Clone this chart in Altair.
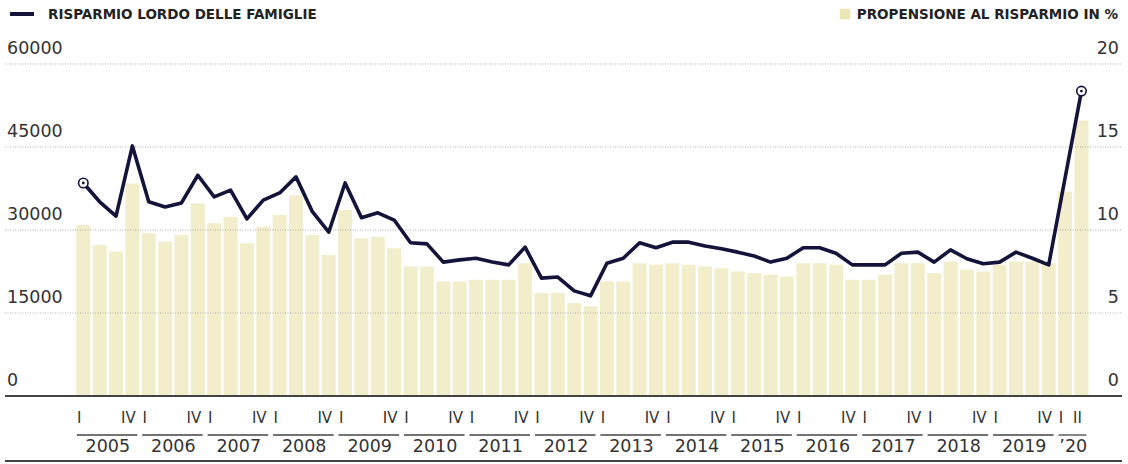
import altair as alt
import pandas as pd

# ---------------- data ----------------
years = list(range(2005, 2021))
year_labels = [str(y) for y in range(2005, 2020)] + ["’20"]

# Risparmio lordo delle famiglie (milioni di euro), 2005-I .. 2020-II
risparmio = [38500, 35100, 32500, 45200, 35100, 34150, 34900, 39900,
             36000, 37200, 32000, 35400, 36700, 39600, 33300, 29600,
             38500, 32200, 33100, 31800, 27700, 27500, 24200, 24600,
             24900, 24200, 23700, 26900, 21300, 21500, 19000, 18100,
             24000, 24900, 27700, 26800, 27800, 27800, 27100, 26600,
             26000, 25300, 24200, 24900, 26800, 26800, 25800, 23700,
             23700, 23700, 25800, 26000, 24200, 26400, 24800, 23900,
             24200, 26000, 24900, 23700, 39400, 55100]

# Propensione al risparmio in %
propensione = [10.3, 9.1, 8.7, 12.8, 9.8, 9.3, 9.7, 11.6,
               10.4, 10.8, 9.2, 10.2, 10.9, 12.1, 9.7, 8.5,
               11.2, 9.5, 9.6, 8.9, 7.8, 7.8, 6.9, 6.9,
               7.0, 7.0, 7.0, 8.0, 6.2, 6.2, 5.6, 5.4,
               6.9, 6.9, 8.0, 7.9, 8.0, 7.9, 7.8, 7.7,
               7.5, 7.4, 7.3, 7.2, 8.0, 8.0, 7.9, 7.0,
               7.0, 7.3, 8.0, 8.0, 7.4, 8.1, 7.6, 7.5,
               7.9, 8.1, 8.1, 8.0, 12.3, 16.6]

left_ticks = [0, 15000, 30000, 45000, 60000]
left_tick_labels = ["0", "15000", "30000", "45000", "60000"]
right_ticks = [0, 5, 10, 15, 20]
RATIO = 3000  # 20% <-> 60000

quarter_names = ["I", "II", "III", "IV"]

legend_left = "RISPARMIO LORDO DELLE FAMIGLIE"
legend_right = "PROPENSIONE AL RISPARMIO IN %"

# ---------------- tables ----------------
n = len(risparmio)
df = pd.DataFrame({"i": list(range(n)), "risparmio": risparmio,
                   "propensione": propensione})

ql = []
for k, y in enumerate(years):
    first = 4 * k
    last = min(4 * k + 3, n - 1)
    ql.append({"i": first, "q": quarter_names[0]})
    ql.append({"i": last, "q": quarter_names[last - first]})
qdf = pd.DataFrame(ql)

ydf = pd.DataFrame({
    "first": [4 * k for k in range(len(years))],
    "last": [min(4 * k + 3, n - 1) for k in range(len(years))],
    "label": year_labels,
})

ldf = pd.DataFrame({"v": left_ticks, "label": left_tick_labels})
rdf = pd.DataFrame({"p": right_ticks, "label": [str(t) for t in right_ticks]})

FONT = "DejaVu Sans"
INK = "#14143a"
BAR = "#f2eecb"
TXT = "#333333"

X = alt.Scale(domain=[-4.785, 63.54])
Y = alt.Scale(domain=[-12289, 71566])

base = alt.Chart(df)

bars = base.mark_bar(color=BAR, size=14).transform_calculate(
    bv=f"datum.propensione * {RATIO}"
).encode(
    x=alt.X("i:Q", scale=X, axis=None),
    y=alt.Y("bv:Q", scale=Y, axis=None),
    y2=alt.datum(0),
)

grid = alt.Chart(ldf).transform_filter("datum.v > 0").mark_rule(
    color="#b0b0b0", strokeWidth=1, strokeDash=[1, 1.5]
).encode(
    y=alt.Y("v:Q", scale=Y, axis=None),
    x=alt.value(5), x2=alt.value(1122),
)

baseline = alt.Chart(ldf).transform_filter("datum.v == 0").mark_rule(
    color="#444444", strokeWidth=2
).encode(
    y=alt.Y("v:Q", scale=Y, axis=None),
    x=alt.value(5), x2=alt.value(1122),
)

line = base.mark_line(color=INK, strokeWidth=3.6, strokeJoin="round").encode(
    x=alt.X("i:Q", scale=X, axis=None),
    y=alt.Y("risparmio:Q", scale=Y, axis=None),
)

ends = base.transform_filter(f"datum.i == 0 || datum.i == {n-1}")
ring = ends.mark_point(shape="circle", filled=True, fill="white", stroke=INK,
                       strokeWidth=1.6, size=90, opacity=1).encode(
    x=alt.X("i:Q", scale=X, axis=None),
    y=alt.Y("risparmio:Q", scale=Y, axis=None),
)
dot = ends.mark_point(shape="circle", filled=True, color=INK, size=8,
                      opacity=1).encode(
    x=alt.X("i:Q", scale=X, axis=None),
    y=alt.Y("risparmio:Q", scale=Y, axis=None),
)

left_lab = alt.Chart(ldf).mark_text(
    align="left", baseline="middle", dy=-15, fontSize=17.5, font=FONT, color=TXT
).encode(
    y=alt.Y("v:Q", scale=Y, axis=None),
    x=alt.value(7),
    text="label:N",
)

right_lab = alt.Chart(rdf).transform_calculate(v=f"datum.p * {RATIO}").mark_text(
    align="right", baseline="middle", dy=-15, fontSize=17.5, font=FONT, color=TXT
).encode(
    y=alt.Y("v:Q", scale=Y, axis=None),
    x=alt.value(1119),
    text="label:N",
)

q_lab = alt.Chart(qdf).mark_text(
    align="center", baseline="middle", dx=-4, fontSize=15, font=FONT, color=TXT
).encode(
    x=alt.X("i:Q", scale=X, axis=None),
    y=alt.value(418),
    text="q:N",
)

yr = alt.Chart(ydf).transform_calculate(
    a="datum.first - 0.4", b="datum.last + 0.3", m="(datum.first + datum.last) / 2"
)
yr_rule = yr.mark_rule(color="#444444", strokeWidth=1.3).encode(
    x=alt.X("a:Q", scale=X, axis=None),
    x2="b:Q",
    y=alt.value(435),
)
yr_text = yr.mark_text(
    align="center", baseline="middle", fontSize=17.5, font=FONT, color=TXT
).encode(
    x=alt.X("m:Q", scale=X, axis=None),
    y=alt.value(447),
    text="label:N",
)

bottom = alt.Chart(ldf).transform_filter("datum.v == 0").mark_rule(
    color="#444444", strokeWidth=2
).encode(x=alt.value(5), x2=alt.value(1122), y=alt.value(461))

leg = pd.DataFrame({"t": [legend_left]})
leg_sw = alt.Chart(leg).mark_rule(color=INK, strokeWidth=4).encode(
    x=alt.value(10), x2=alt.value(34), y=alt.value(14))
leg_tx = alt.Chart(leg).mark_text(
    align="left", baseline="middle", fontSize=13.5, fontWeight="bold",
    font=FONT, color="#222222"
).encode(x=alt.value(48), y=alt.value(15), text="t:N")

leg2 = pd.DataFrame({"t": [legend_right]})
leg2_sw = alt.Chart(leg2).mark_square(color="#ece6b4", size=110, opacity=1).encode(
    x=alt.value(845), y=alt.value(14))
leg2_tx = alt.Chart(leg2).mark_text(
    align="right", baseline="middle", fontSize=13.5, fontWeight="bold",
    font=FONT, color="#222222"
).encode(x=alt.value(1118), y=alt.value(15), text="t:N")

chart = alt.layer(
    bars, grid, baseline, line, ring, dot, left_lab, right_lab,
    q_lab, yr_rule, yr_text, bottom, leg_sw, leg_tx, leg2_sw, leg2_tx
).properties(
    width=1128, height=464, padding=0, autosize="none", background="white"
).configure_view(stroke=None)

chart.save("out.html", embed_options={"renderer": "svg", "actions": False})
